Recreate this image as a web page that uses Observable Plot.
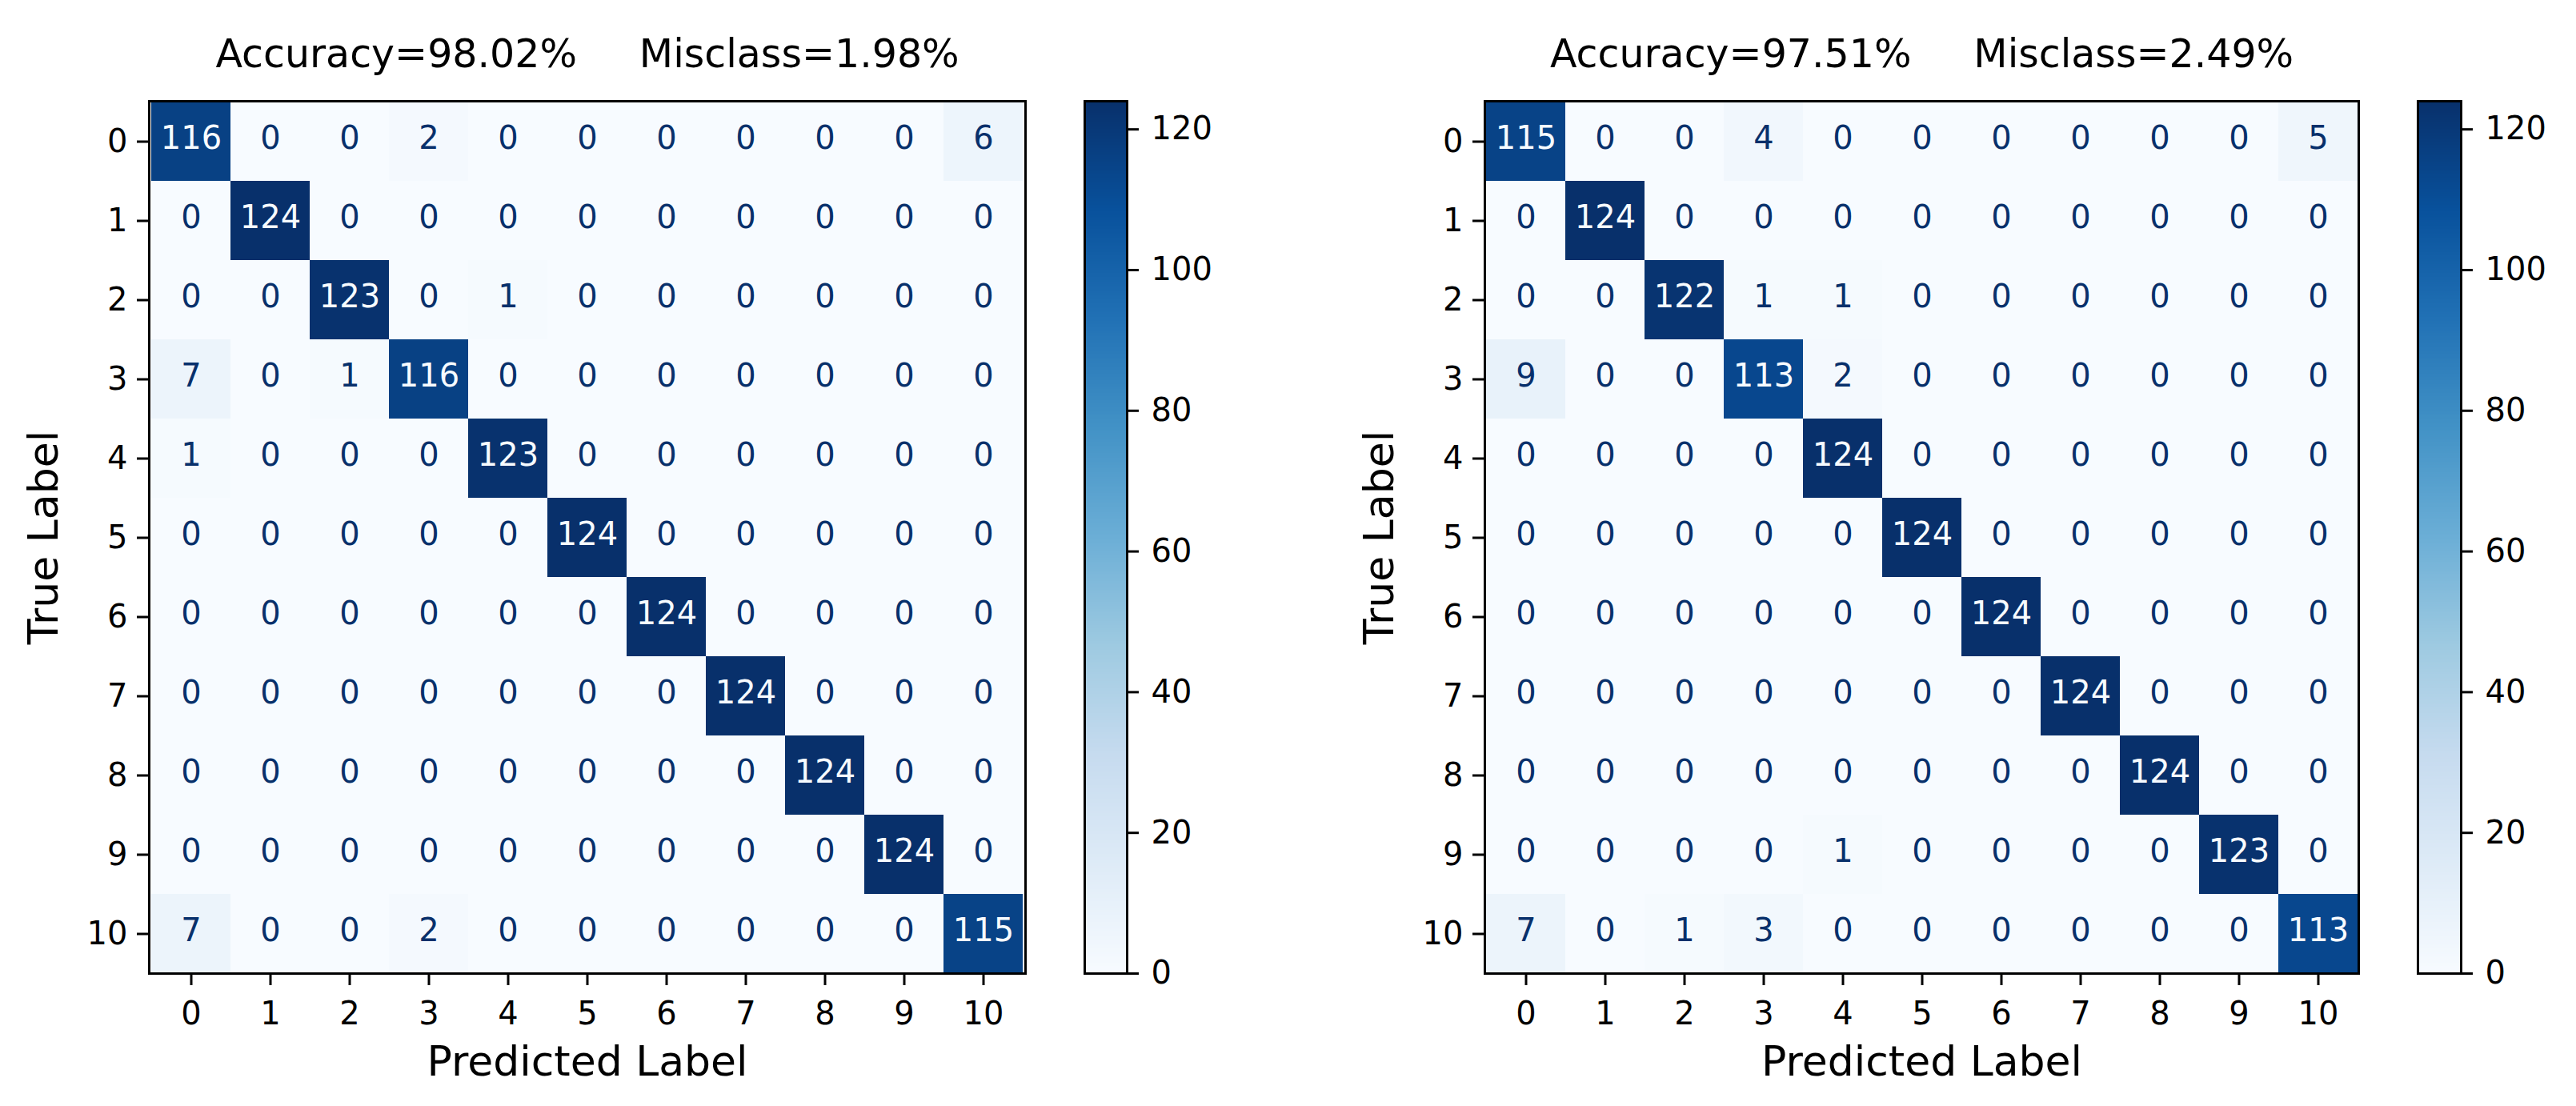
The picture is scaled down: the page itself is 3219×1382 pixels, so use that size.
<!DOCTYPE html>
<html>
<head>
<meta charset="utf-8">
<script src="https://cdn.jsdelivr.net/npm/d3@7"></script>
<script src="https://cdn.jsdelivr.net/npm/@observablehq/plot@0.6"></script>
<style>
  html, body { margin: 0; padding: 0; background: #fff; }
  #fig { position: relative; width: 3219px; height: 1382px; background: #fff; font-family: "DejaVu Sans", sans-serif; overflow: hidden; }
  #fig > svg { position: absolute; top: 0; max-width: none !important; }
</style>
</head>
<body>
<div id="fig"></div>
<script>
// ---------- data ----------
const classes = [0, 1, 2, 3, 4, 5, 6, 7, 8, 9, 10];

// rows = true label, columns = predicted label
const matrixLeft = [
  [116, 0, 0, 2, 0, 0, 0, 0, 0, 0, 6],
  [0, 124, 0, 0, 0, 0, 0, 0, 0, 0, 0],
  [0, 0, 123, 0, 1, 0, 0, 0, 0, 0, 0],
  [7, 0, 1, 116, 0, 0, 0, 0, 0, 0, 0],
  [1, 0, 0, 0, 123, 0, 0, 0, 0, 0, 0],
  [0, 0, 0, 0, 0, 124, 0, 0, 0, 0, 0],
  [0, 0, 0, 0, 0, 0, 124, 0, 0, 0, 0],
  [0, 0, 0, 0, 0, 0, 0, 124, 0, 0, 0],
  [0, 0, 0, 0, 0, 0, 0, 0, 124, 0, 0],
  [0, 0, 0, 0, 0, 0, 0, 0, 0, 124, 0],
  [7, 0, 0, 2, 0, 0, 0, 0, 0, 0, 115]
];

const matrixRight = [
  [115, 0, 0, 4, 0, 0, 0, 0, 0, 0, 5],
  [0, 124, 0, 0, 0, 0, 0, 0, 0, 0, 0],
  [0, 0, 122, 1, 1, 0, 0, 0, 0, 0, 0],
  [9, 0, 0, 113, 2, 0, 0, 0, 0, 0, 0],
  [0, 0, 0, 0, 124, 0, 0, 0, 0, 0, 0],
  [0, 0, 0, 0, 0, 124, 0, 0, 0, 0, 0],
  [0, 0, 0, 0, 0, 0, 124, 0, 0, 0, 0],
  [0, 0, 0, 0, 0, 0, 0, 124, 0, 0, 0],
  [0, 0, 0, 0, 0, 0, 0, 0, 124, 0, 0],
  [0, 0, 0, 0, 1, 0, 0, 0, 0, 123, 0],
  [7, 0, 1, 3, 0, 0, 0, 0, 0, 0, 113]
];

const nbsp5 = "\u00a0\u00a0\u00a0\u00a0\u00a0";
const titleLeft = "Accuracy=98.02%" + nbsp5 + "Misclass=1.98%";
const titleRight = "Accuracy=97.51%" + nbsp5 + "Misclass=2.49%";
const xLabel = "Predicted Label";
const yLabel = "True Label";

const colorMin = 0;
const colorMax = 124;
const colorbarTicks = [0, 20, 40, 60, 80, 100, 120];

// ---------- styles ----------
const blues9 = ["#f7fbff", "#deebf7", "#c6dbef", "#9ecae1", "#6baed6", "#4292c6", "#2171b5", "#08519c", "#08306b"];
const colorScale = {
  type: "linear",
  domain: blues9.map((_, k) => colorMin + k * (colorMax - colorMin) / 8),
  range: blues9,
  interpolate: "rgb",
  clamp: true
};
const FONT = "DejaVu Sans";
const TICK_FS = 40;
const LABEL_FS = 52;
const TITLE_FS = 49;
const TOP = 126, BOTTOM = 1216, H = 1382;

function matrixPlot(cm, title, {width, ml, pw}) {
  const cells = [];
  cm.forEach((row, i) => row.forEach((v, j) => cells.push({t: classes[i], p: classes[j], v})));
  const thresh = (colorMax + colorMin) / 2;
  return Plot.plot({
    width, height: H,
    marginLeft: ml, marginRight: width - ml - pw, marginTop: TOP, marginBottom: H - BOTTOM,
    style: {fontFamily: FONT, fontSize: TICK_FS + "px", color: "#000", background: "transparent", overflow: "visible"},
    x: {type: "band", domain: classes, padding: 0, axis: null},
    y: {type: "band", domain: classes, padding: 0, axis: null},
    color: colorScale,
    marks: [
      Plot.cell(cells, {x: "p", y: "t", fill: "v", inset: 0, shapeRendering: "crispEdges"}),
      Plot.text(cells, {filter: d => d.v < thresh, x: "p", y: "t", text: d => String(d.v), fill: blues9[8], fontSize: TICK_FS, dy: -4}),
      Plot.text(cells, {filter: d => d.v >= thresh, x: "p", y: "t", text: d => String(d.v), fill: blues9[0], fontSize: TICK_FS, dy: -4}),
      Plot.frame({stroke: "#000", strokeWidth: 3}),
      Plot.axisX({anchor: "bottom", tickSize: 15, tickPadding: 20, label: null, fontSize: TICK_FS, strokeWidth: 3}),
      Plot.axisY({anchor: "left", tickSize: 15, tickPadding: 12, label: null, fontSize: TICK_FS, strokeWidth: 3}),
      Plot.text([title], {text: d => d, frameAnchor: "top", textAnchor: "middle", lineAnchor: "bottom", dy: -43, fontSize: TITLE_FS, fill: "#000"}),
      Plot.text([xLabel], {text: d => d, frameAnchor: "bottom", textAnchor: "middle", lineAnchor: "bottom", dy: 127, fontSize: LABEL_FS, fill: "#000"}),
      Plot.text([yLabel], {text: d => d, frameAnchor: "left", textAnchor: "middle", lineAnchor: "middle", rotate: -90, dx: -131, fontSize: LABEL_FS, fill: "#000"})
    ]
  });
}

function colorbarPlot({width, ml, bw}) {
  const step = 0.25;
  const ramp = d3.range(colorMin, colorMax, step);
  return Plot.plot({
    width, height: H,
    marginLeft: ml, marginRight: width - ml - bw, marginTop: TOP, marginBottom: H - BOTTOM,
    style: {fontFamily: FONT, fontSize: TICK_FS + "px", color: "#000", background: "transparent", overflow: "visible"},
    x: {domain: [0, 1], axis: null},
    y: {domain: [colorMin, colorMax], axis: null},
    color: colorScale,
    marks: [
      Plot.rect(ramp, {x1: 0, x2: 1, y1: d => d, y2: d => Math.min(colorMax, d + step * 1.5), fill: d => d + step / 2, shapeRendering: "crispEdges"}),
      Plot.frame({stroke: "#000", strokeWidth: 3}),
      Plot.axisY({anchor: "right", ticks: colorbarTicks, tickSize: 14, tickPadding: 16, label: null, fontSize: TICK_FS, strokeWidth: 3})
    ]
  });
}

const fig = document.getElementById("fig");
function place(svg, left) { svg.style.left = left + "px"; fig.appendChild(svg); }

place(matrixPlot(matrixLeft, titleLeft, {width: 1300, ml: 186, pw: 1095}), 0);
place(colorbarPlot({width: 300, ml: 55, bw: 53}), 1300);
place(matrixPlot(matrixRight, titleRight, {width: 1320, ml: 215, pw: 1092}), 1640);
place(colorbarPlot({width: 259, ml: 61, bw: 54}), 2960);
</script>
</body>
</html>
